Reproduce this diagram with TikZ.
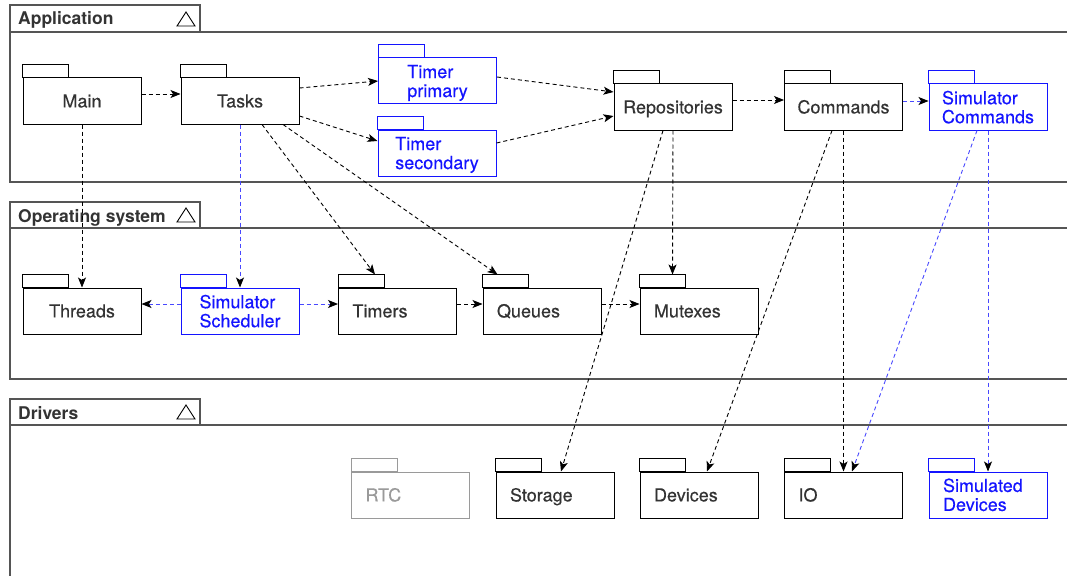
\documentclass[tikz,border=0pt]{standalone}
\usepackage{fontspec}
\setmainfont{TeX Gyre Heros}[FakeBold=0.35]
\newfontfamily\titlefont{TeX Gyre Heros}
\usetikzlibrary{arrows.meta}
\definecolor{ink}{HTML}{333333}
\definecolor{framegray}{HTML}{555555}
\definecolor{simblue}{HTML}{1414FF}
\definecolor{simline}{HTML}{4848FF}
\definecolor{faded}{HTML}{9A9A9A}
\begin{document}
\begin{tikzpicture}[x=1pt,y=-1pt,
  font=\fontsize{18}{19}\selectfont,
  layer/.style={draw=framegray, line width=1.1pt},
  layertitle/.style={anchor=base west, inner sep=0pt, text=ink, font=\titlefont\fontsize{17.5}{19}\selectfont\bfseries},
  collapse/.style={draw=black, line width=0.9pt, line join=miter},
  pkgc/.style={draw=black, line width=1.0pt, minimum width=118pt, minimum height=46pt,
    inner sep=0pt, text=ink, align=left, text depth=0pt},
  one/.style={text height=12.9pt},
  two/.style={text height=12.9pt, text depth=19pt},
  pkgl/.style={pkgc, text width=90pt, inner xsep=14pt},
  sim/.style={draw=simblue, text=simblue},
  dim/.style={draw=faded, text=faded},
  tip/.tip={Stealth[length=10pt,width=8pt,inset=2.5pt,color=black,fill=black]},
  dep/.style={draw=black, line width=0.9pt, dash pattern=on 4pt off 3pt, -tip},
  simdep/.style={dep, draw=simline},
  tab/.style={line width=1.0pt},
]
\useasboundingbox (0,0) rectangle (1067,575);

% ---- layers ----
\draw[layer] (10,32) rectangle (1080,182);
\draw[layer] (10,5) rectangle (200,32);
\node[layertitle] (lapp) at (18,25) {Application};
\draw[collapse] (177,26) -- (186,12) -- (195,26) -- cycle;

\draw[layer] (10,228) rectangle (1080,379);
\draw[layer] (10,202) rectangle (200,228);
\node[layertitle] (los) at (18,222) {Operating system};
\draw[collapse] (177,222) -- (186,208) -- (195,222) -- cycle;

\draw[layer] (10,425) rectangle (1080,590);
\draw[layer] (10,399) rectangle (200,425);
\node[layertitle] (ldrv) at (18,419) {Drivers};
\draw[collapse] (177,419) -- (186,405) -- (195,419) -- cycle;

% ---- packages: application ----
\node[pkgc,one] (main)    at (82,101)    {Main};
\node[pkgc,one] (tasks)   at (240,101)   {Tasks};
\node[pkgc,sim] (tprim) at (437.5,81) {Timer\\primary};
\node[pkgc,sim] (tsec)  at (437,153)  {Timer\\secondary};
\node[pkgc,one] (repo)    at (673,107)   {Repositories};
\node[pkgc,one] (cmds)    at (843.5,107) {Commands};
\node[pkgc,sim] (simcmds) at (988,107) {Simulator\\Commands};

% ---- packages: operating system ----
\node[pkgc,one] (threads)  at (82,311)    {Threads};
\node[pkgc,sim] (simsched) at (240,311) {Simulator\\Scheduler};
\node[pkgl,one] (timers)   at (397.5,311) {Timers};
\node[pkgl,one] (queues)   at (542,311)   {Queues};
\node[pkgl,one] (mutexes)  at (699,311)   {Mutexes};

% ---- packages: drivers ----
\node[pkgl,one,dim] (rtc)     at (410.5,495) {RTC};
\node[pkgl,one] (storage)     at (555,495)   {Storage};
\node[pkgl,one] (devices)     at (699,495)   {Devices};
\node[pkgl,one] (io)          at (843.5,495) {IO};
\node[pkgl,two,sim] (simdev)  at (988,495)   {Simulated\\Devices};

% ---- package tabs ----
\foreach \n in {main,tasks,repo,cmds,threads,timers,queues,mutexes,storage,devices,io}
  \draw[tab, black] (\n.north west) rectangle ++(46pt,13pt);
\foreach \n in {tprim,tsec,simcmds,simsched,simdev}
  \draw[tab, simblue] (\n.north west) rectangle ++(46pt,13pt);
\draw[tab, faded] (rtc.north west) rectangle ++(46pt,13pt);

% ---- dependencies ----
\draw[dep] ([yshift=7pt]main.east) -- ([yshift=7pt]tasks.west);
\draw[dep] (main.south) -- (threads.north);
\draw[dep] ([yshift=13pt]tasks.east) -- (tprim.west);
\draw[dep] ([yshift=-15pt]tasks.east) -- ([yshift=12pt]tsec.west);
\draw[simdep] (tasks.south) -- (simsched.north);
\draw[dep] ([xshift=22pt]tasks.south) -- ([xshift=37pt,yshift=13pt]timers.north west);
\draw[dep] ([xshift=43pt]tasks.south) -- ([xshift=15pt,yshift=13pt]queues.north west);
\draw[dep] ([yshift=4pt]tprim.east) -- ([yshift=15pt]repo.west);
\draw[dep] ([yshift=10pt]tsec.east) -- ([yshift=-9pt]repo.west);
\draw[dep] ([yshift=7pt]repo.east) -- ([yshift=7pt]cmds.west);
\draw[simdep] ([yshift=6pt]cmds.east) -- ([yshift=6pt]simcmds.west);
\draw[dep] (repo.south) -- ([xshift=33pt,yshift=13pt]mutexes.north west);
\draw[dep] ([xshift=-10pt]repo.south) -- ([xshift=6pt]storage.north);
\draw[dep] ([xshift=-11.5pt]cmds.south) -- ([xshift=8pt]devices.north);
\draw[dep] (cmds.south) -- (io.north);
\draw[simdep] ([xshift=-11pt]simcmds.south) -- ([xshift=8.5pt]io.north);
\draw[simdep] (simcmds.south) -- (simdev.north);
\draw[simdep] ([yshift=7pt]simsched.west) -- ([yshift=7pt]threads.east);
\draw[simdep] ([yshift=7pt]simsched.east) -- ([yshift=7pt]timers.west);
\draw[dep] ([yshift=7pt]timers.east) -- ([yshift=7pt]queues.west);
\draw[dep] ([yshift=7pt]queues.east) -- ([yshift=7pt]mutexes.west);
\end{tikzpicture}
\end{document}
